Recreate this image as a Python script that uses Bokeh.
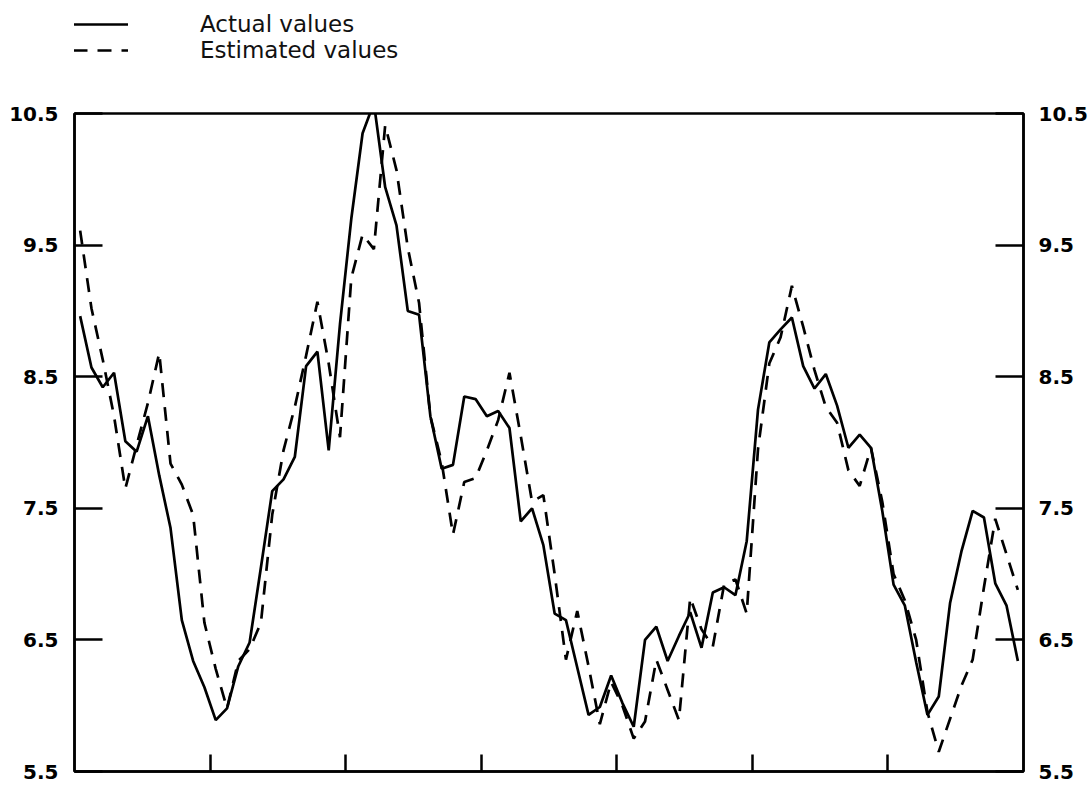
from bokeh.plotting import figure
from bokeh.layouts import column
from bokeh.models import Range1d, LinearAxis, FixedTicker, Legend, LegendItem
from bokeh.embed import file_html
from bokeh.resources import INLINE

# ---- data (monthly observations over 7 years) ----
months = [i + 0.5 for i in range(84)]

actual = [8.96, 8.57, 8.42, 8.53, 8.01, 7.93, 8.20, 7.75, 7.35, 6.65,
          6.34, 6.14, 5.89, 5.98, 6.30, 6.48, 7.05, 7.63, 7.72, 7.89,
          8.58, 8.69, 7.94, 8.90, 9.70, 10.35, 10.58, 9.94, 9.65, 9.00,
          8.97, 8.20, 7.80, 7.83, 8.35, 8.33, 8.20, 8.24, 8.11, 7.40,
          7.50, 7.22, 6.70, 6.65, 6.29, 5.93, 5.99, 6.23, 6.02, 5.84,
          6.50, 6.60, 6.34, 6.53, 6.71, 6.44, 6.86, 6.90, 6.84, 7.25,
          8.25, 8.76, 8.86, 8.95, 8.58, 8.41, 8.52, 8.28, 7.96, 8.06,
          7.96, 7.48, 6.92, 6.76, 6.33, 5.93, 6.07, 6.78, 7.17, 7.48,
          7.43, 6.93, 6.76, 6.34]

estimated = [9.61, 9.02, 8.63, 8.20, 7.65, 7.98, 8.30, 8.68, 7.84, 7.68,
             7.45, 6.63, 6.28, 5.98, 6.34, 6.43, 6.63, 7.45, 7.94, 8.27,
             8.66, 9.07, 8.60, 8.04, 9.25, 9.58, 9.47, 10.41, 10.07, 9.48,
             9.06, 8.20, 7.85, 7.30, 7.70, 7.73, 7.94, 8.17, 8.53, 8.05,
             7.55, 7.60, 7.00, 6.35, 6.72, 6.30, 5.86, 6.18, 6.00, 5.75,
             5.88, 6.35, 6.12, 5.89, 6.82, 6.58, 6.45, 6.92, 6.96, 6.70,
             7.95, 8.60, 8.80, 9.19, 8.88, 8.55, 8.27, 8.15, 7.79, 7.67,
             7.96, 7.55, 7.00, 6.80, 6.50, 5.95, 5.65, 5.90, 6.15, 6.35,
             6.90, 7.42, 7.15, 6.88]

y_ticks = [5.5, 6.5, 7.5, 8.5, 9.5, 10.5]
x_ticks = [12, 24, 36, 48, 60, 72]
series_labels = ["Actual values", "Estimated values"]

SOLID = dict(line_color="black", line_width=2.7)
DASHED = dict(line_color="black", line_width=2.7, line_dash="14 10")

# ---------------- legend strip (own small figure) ----------------
# its ranges exclude the data, so only the legend is visible here
lf = figure(width=1090, height=100, x_range=Range1d(0, 1), y_range=Range1d(0, 1),
            output_backend="svg", toolbar_location=None,
            x_axis_location=None, y_axis_location=None,
            min_border_left=0, min_border_right=0,
            min_border_top=0, min_border_bottom=0)
lf.grid.visible = False
lf.outline_line_color = None
lf.background_fill_color = "white"
lf.border_fill_color = "white"
l1 = lf.line(months, actual, **SOLID)
l2 = lf.line(months, estimated, **DASHED)
legend = Legend(items=[LegendItem(label=series_labels[0], renderers=[l1]),
                       LegendItem(label=series_labels[1], renderers=[l2])],
                location=(-1, 37),
                glyph_width=55, glyph_height=20, label_standoff=72,
                padding=0, margin=0, spacing=0,
                border_line_color=None, background_fill_alpha=0,
                label_text_font="DejaVu Sans", label_text_font_size="23px",
                label_text_color="#111111")
lf.add_layout(legend)

# ---------------- main chart ----------------
p = figure(width=1090, height=684,
           x_range=Range1d(0, 84), y_range=Range1d(5.5, 10.5),
           output_backend="svg", toolbar_location=None,
           min_border_left=74, min_border_right=65,
           min_border_top=13, min_border_bottom=13)

p.grid.visible = False
p.outline_line_color = "black"
p.outline_line_width = 2.5
p.background_fill_color = "white"
p.border_fill_color = "white"

# bottom axis: inward ticks, no labels
xa = p.xaxis[0]
xa.ticker = FixedTicker(ticks=x_ticks)
xa.major_label_overrides = {t: "" for t in x_ticks}
xa.major_tick_in = 17
xa.major_tick_out = 0
xa.minor_tick_in = 0
xa.minor_tick_out = 0
xa.major_label_standoff = 0
xa.axis_line_width = 2.5
xa.major_tick_line_width = 2.5

def style_y(ax, standoff):
    ax.ticker = FixedTicker(ticks=y_ticks)
    ax.major_tick_in = 28
    ax.major_tick_out = 0
    ax.minor_tick_in = 0
    ax.minor_tick_out = 0
    ax.axis_line_width = 2.5
    ax.major_tick_line_width = 2.5
    ax.major_label_standoff = standoff
    ax.major_label_text_font = "DejaVu Sans"
    ax.major_label_text_font_style = "bold"
    ax.major_label_text_font_size = "20px"
    ax.major_label_text_color = "black"

style_y(p.yaxis[0], 16)
ra = LinearAxis()
style_y(ra, 15)
p.add_layout(ra, "right")

p.line(months, actual, **SOLID)
p.line(months, estimated, **DASHED)

layout = column(lf, p, spacing=0)
open("out.html", "w").write(file_html(layout, INLINE))
